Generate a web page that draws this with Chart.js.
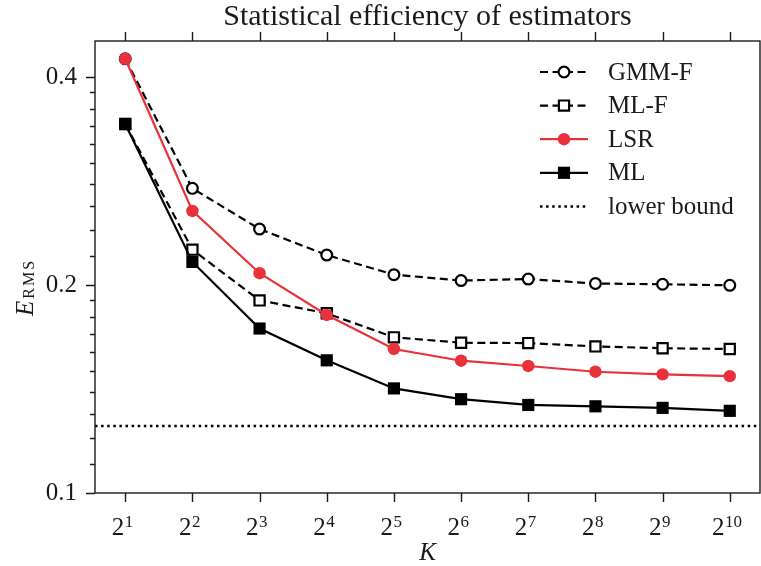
<!DOCTYPE html>
<html>
<head>
<meta charset="utf-8">
<script src="https://cdn.jsdelivr.net/npm/chart.js@4/dist/chart.umd.min.js"></script>
<style>
  body { margin: 0; background: #fff; }
  canvas { display: block; }
</style>
</head>
<body>
<canvas id="effChart" width="761" height="566"></canvas>
<script>
// K = 2^exponent
const exponents = [1, 2, 3, 4, 5, 6, 7, 8, 9, 10];
const gmmF = [0.425, 0.276, 0.241, 0.221, 0.207, 0.203, 0.204, 0.201, 0.2005, 0.1998];
const mlF = [0.342, 0.225, 0.190, 0.182, 0.168, 0.165, 0.1648, 0.163, 0.162, 0.1616];
const lsr = [0.425, 0.256, 0.208, 0.181, 0.1616, 0.1554, 0.1527, 0.1498, 0.1485, 0.1476];
const ml = [0.342, 0.216, 0.173, 0.1556, 0.1417, 0.1367, 0.1341, 0.1335, 0.1328, 0.1315];
const lowerBound = 0.125;

const yMajorTicks = [0.1, 0.2, 0.4];
const yMinorTicks = [0.11, 0.12, 0.13, 0.14, 0.15, 0.16, 0.17, 0.18, 0.19,
                     0.22, 0.24, 0.26, 0.28, 0.3, 0.32, 0.34, 0.36, 0.38];

const titleText = 'Statistical efficiency of estimators';
const serif = '"Liberation Serif", "Times New Roman", serif';
const ink = '#1a1a1a';
const red = '#e8313a';

function toPoints(values) {
    return exponents.map((e, i) => ({x: e, y: values[i]}));
}

const datasets = [{
    label: 'GMM-F',
    data: toPoints(gmmF),
    borderColor: '#000',
    borderWidth: 2.2,
    borderDash: [8, 4.5],
    pointStyle: 'circle',
    pointRadius: 5.4,
    pointBorderWidth: 2.2,
    pointBackgroundColor: '#fff',
    pointBorderColor: '#000',
    order: 4
}, {
    label: 'ML-F',
    data: toPoints(mlF),
    borderColor: '#000',
    borderWidth: 2.2,
    borderDash: [8, 4.5],
    pointStyle: 'rect',
    pointRadius: 7.2,
    pointBorderWidth: 2.2,
    pointBackgroundColor: '#fff',
    pointBorderColor: '#000',
    order: 3
}, {
    label: 'LSR',
    data: toPoints(lsr),
    borderColor: red,
    borderWidth: 2.2,
    pointStyle: 'circle',
    pointRadius: 6.2,
    pointBorderWidth: 0,
    pointBackgroundColor: red,
    pointBorderColor: red,
    order: 2
}, {
    label: 'ML',
    data: toPoints(ml),
    borderColor: '#000',
    borderWidth: 2.2,
    pointStyle: 'rect',
    pointRadius: 8.6,
    pointBorderWidth: 0,
    pointBackgroundColor: '#000',
    pointBorderColor: '#000',
    order: 1
}];

function drawMarker(ctx, ds, x, y) {
    ctx.save();
    ctx.setLineDash([]);
    ctx.fillStyle = ds.pointBackgroundColor;
    ctx.strokeStyle = ds.pointBorderColor;
    ctx.lineWidth = ds.pointBorderWidth;
    ctx.beginPath();
    if (ds.pointStyle === 'circle') {
        ctx.arc(x, y, ds.pointRadius, 0, Math.PI * 2);
    } else {
        const s = Math.SQRT1_2 * ds.pointRadius;
        ctx.rect(x - s, y - s, 2 * s, 2 * s);
    }
    ctx.fill();
    if (ds.pointBorderWidth > 0) ctx.stroke();
    ctx.restore();
}

const framePlugin = {
    id: 'frame',
    beforeDatasetsDraw(chart) {
        const {ctx, chartArea: a, scales: {y}} = chart;
        const yb = y.getPixelForValue(lowerBound);
        ctx.save();
        ctx.strokeStyle = '#000';
        ctx.lineWidth = 2.5;
        ctx.setLineDash([2.5, 3.6]);
        ctx.beginPath();
        ctx.moveTo(a.left, yb);
        ctx.lineTo(a.right, yb);
        ctx.stroke();
        ctx.restore();
    },
    afterDraw(chart) {
        const {ctx, chartArea: a, scales: {x, y}} = chart;
        ctx.save();
        ctx.strokeStyle = ink;
        ctx.lineWidth = 1.4;
        ctx.strokeRect(a.left, a.top, a.right - a.left, a.bottom - a.top);

        // ticks
        ctx.beginPath();
        exponents.forEach(e => {
            const px = Math.round(x.getPixelForValue(e)) + 0.5;
            ctx.moveTo(px, a.bottom);
            ctx.lineTo(px, a.bottom + 9);
            ctx.moveTo(px, a.top);
            ctx.lineTo(px, a.top - 9);
        });
        yMajorTicks.forEach(v => {
            const py = Math.round(y.getPixelForValue(v)) + 0.5;
            ctx.moveTo(a.left, py);
            ctx.lineTo(a.left - 9, py);
        });
        yMinorTicks.forEach(v => {
            const py = Math.round(y.getPixelForValue(v)) + 0.5;
            ctx.moveTo(a.left, py);
            ctx.lineTo(a.left - 5, py);
        });
        ctx.stroke();

        // x tick labels 2^n
        ctx.fillStyle = ink;
        ctx.textBaseline = 'alphabetic';
        ctx.textAlign = 'left';
        exponents.forEach(e => {
            const px = x.getPixelForValue(e);
            ctx.font = '25px ' + serif;
            const wb = ctx.measureText('2').width;
            ctx.font = '17px ' + serif;
            const we = ctx.measureText(String(e)).width;
            const start = px - 3 - (wb + we) / 2;
            ctx.font = '25px ' + serif;
            ctx.fillText('2', start, 535);
            ctx.font = '17px ' + serif;
            ctx.fillText(String(e), start + wb + 0.5, 527);
        });

        // axis titles
        ctx.font = 'italic 25px ' + serif;
        ctx.textAlign = 'center';
        ctx.fillText('K', (a.left + a.right) / 2, 560);

        ctx.save();
        ctx.translate(33, 316);
        ctx.rotate(-Math.PI / 2);
        ctx.textAlign = 'left';
        ctx.font = 'italic 25px ' + serif;
        ctx.fillText('E', 0, 0);
        const wE = ctx.measureText('E').width;
        ctx.font = '16px ' + serif;
        ctx.letterSpacing = '2px';
        ctx.fillText('RMS', wE + 2, 1);
        ctx.restore();

        // title
        ctx.font = '30px ' + serif;
        ctx.textAlign = 'center';
        ctx.textBaseline = 'middle';
        ctx.fillText(titleText, (a.left + a.right) / 2, 17);

        // legend
        const rows = chart.data.datasets.map(ds => ds.label).concat(['lower bound']);
        const lx0 = 540, lx1 = 588, tx = 608, ly0 = 72, step = 33.6;
        rows.forEach((label, i) => {
            const ly = ly0 + i * step;
            const ds = chart.data.datasets[i];
            ctx.save();
            ctx.beginPath();
            if (ds) {
                ctx.strokeStyle = ds.borderColor;
                ctx.lineWidth = ds.borderWidth;
                ctx.setLineDash(ds.borderDash || []);
            } else {
                ctx.strokeStyle = '#000';
                ctx.lineWidth = 2.5;
                ctx.setLineDash([2.5, 3.6]);
            }
            ctx.moveTo(lx0, ly);
            ctx.lineTo(lx1, ly);
            ctx.stroke();
            ctx.restore();
            if (ds) drawMarker(ctx, ds, (lx0 + lx1) / 2, ly);
            ctx.fillStyle = ink;
            ctx.font = '25px ' + serif;
            ctx.textAlign = 'left';
            ctx.textBaseline = 'middle';
            ctx.fillText(label, tx, ly + 1);
        });
        ctx.restore();
    }
};

const ctx = document.getElementById('effChart').getContext('2d');
const effChart = new Chart(ctx, {
    type: 'line',
    data: {datasets: datasets},
    options: {
        responsive: false,
        animation: false,
        layout: {autoPadding: false, padding: {top: 41, right: 1, left: 0, bottom: 0}},
        plugins: {
            legend: {display: false},
            title: {display: false},
            tooltip: {enabled: false}
        },
        scales: {
            x: {
                type: 'linear',
                min: 0.55,
                max: 10.45,
                grid: {display: false},
                border: {display: false},
                ticks: {display: false},
                afterFit: scale => { scale.height = 73; }
            },
            y: {
                type: 'logarithmic',
                min: 0.1,
                max: 0.451,
                grid: {display: false},
                border: {display: false},
                afterBuildTicks: scale => {
                    scale.ticks = yMajorTicks.map(v => ({value: v}));
                },
                ticks: {
                    padding: 10,
                    color: ink,
                    font: {family: serif, size: 25},
                    callback: v => String(v)
                },
                afterFit: scale => { scale.width = 95; }
            }
        }
    },
    plugins: [framePlugin]
});
</script>
</body>
</html>
